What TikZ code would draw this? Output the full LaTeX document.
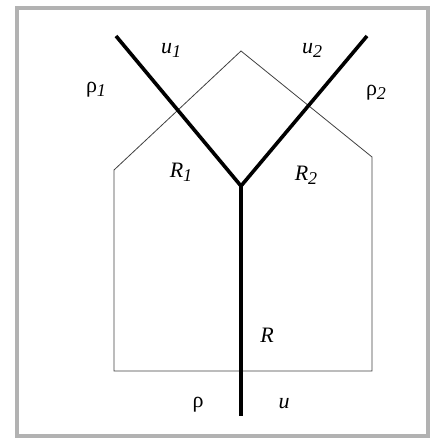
\documentclass[tikz,border=0pt]{standalone}
\usepackage{fontspec}
\setmainfont{Liberation Serif}
\newcommand{\lsub}[1]{\raisebox{-4pt}{\fontsize{18}{20}\selectfont\textit{#1}}}
\begin{document}
\begin{tikzpicture}[x=1pt,y=-1pt,
  frame/.style={draw=black!30,line width=3.5pt},
  thinline/.style={draw=black!75,line width=0.8pt,line join=miter},
  thickline/.style={draw=black,line width=3.6pt,line join=miter},
  lab/.style={inner sep=0pt,font=\fontsize{22}{24}\selectfont}]
\useasboundingbox (0,0) rectangle (433,438);
\draw[frame] (17,8) rectangle (428,436);
% pentagon
\coordinate (p1) at (114,371);
\coordinate (p2) at (114,170);
\coordinate (p3) at (241,51);
\coordinate (p4) at (372,157);
\coordinate (p5) at (372,371);
\draw[thinline] (p1) -- (p2) -- (p3) -- (p4) -- (p5) -- cycle;
% Y
\coordinate (j) at (241,186);
\coordinate (a1) at (116,36);
\coordinate (a2) at (367,36);
\coordinate (s) at (241,416);
\draw[thickline] (a1) -- (j) -- (a2);
\draw[thickline] (j) -- (s);
% labels
\node[lab] (u1) at (171,50) {\textit{u}\lsub{1}};
\node[lab] (u2) at (312,50) {\textit{u}\lsub{2}};
\node[lab] (r1) at (96,90) {ρ\lsub{1}};
\node[lab] (r2) at (376,93) {ρ\lsub{2}};
\node[lab] (R1) at (181,172) {\textit{R}\lsub{1}};
\node[lab] (R2) at (306,175) {\textit{R}\lsub{2}};
\node[lab] (R) at (267,335) {\textit{R}};
\node[lab] (rho) at (198,405) {ρ};
\node[lab] (u) at (284,404) {\textit{u}};
\end{tikzpicture}
\end{document}
